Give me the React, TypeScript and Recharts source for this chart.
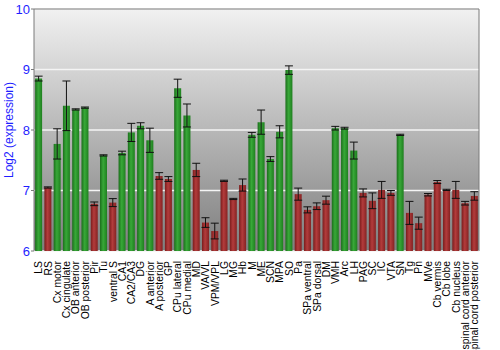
import {
  Bar,
  BarChart,
  CartesianGrid,
  Cell,
  ErrorBar,
  ReferenceLine,
  XAxis,
  YAxis,
} from "recharts";

const regions = [
  "LS", "RS", "Cx motor", "Cx cingulate", "OB anterior", "OB posterior", "Pir", "Tu",
  "ventral S", "CA1", "CA2/CA3", "DG", "A anterior", "A posterior", "GP", "CPu lateral",
  "CPu medial", "MD", "VA/VL", "VPM/VPL", "LG", "MG", "Hb", "M", "ME", "SCN", "MPA", "SO",
  "Pa", "SPa ventral", "SPa dorsal", "DM", "VMH", "Arc", "LH", "PAG", "SC", "IC", "VTA",
  "SN", "Tg", "Pn", "MVe", "Cb vermis", "Cb lobe", "Cb nucleus", "spinal cord anterior",
  "spinal cord posterior",
];

const expression = [
  8.85, 7.05, 7.77, 8.4, 8.34, 8.37, 6.78, 7.58,
  6.8, 7.62, 7.96, 8.07, 7.83, 7.24, 7.19, 8.69,
  8.24, 7.34, 6.47, 6.33, 7.16, 6.86, 7.09, 7.92, 8.13, 7.52, 7.97, 8.99,
  6.94, 6.68, 6.74, 6.84, 8.03, 8.03, 7.66, 6.96, 6.83, 7.01, 6.96,
  7.92, 6.63, 6.46, 6.93, 7.14, 7.01, 7.01, 6.79,
  6.91,
];

const stdErr = [
  0.04, 0.01, 0.25, 0.41, 0.01, 0.01, 0.03, 0.01,
  0.066, 0.03, 0.15, 0.05, 0.2, 0.055, 0.04, 0.15,
  0.19, 0.11, 0.08, 0.13, 0.01, 0.01, 0.1, 0.04, 0.2, 0.04, 0.1, 0.07,
  0.1, 0.05, 0.055, 0.066, 0.03, 0.015, 0.14, 0.066, 0.13, 0.14, 0.04,
  0.01, 0.19, 0.1, 0.02, 0.025, 0.01, 0.14, 0.03,
  0.07,
];

// green = above the expression threshold, red = below
const high = [
  1, 0, 1, 1, 1, 1, 0, 1,
  0, 1, 1, 1, 1, 0, 0, 1,
  1, 0, 0, 0, 0, 0, 0, 1, 1, 1, 1, 1,
  0, 0, 0, 0, 1, 1, 1, 0, 0, 0, 0,
  1, 0, 0, 0, 0, 0, 0, 0,
  0,
];

const yTicks = [6, 7, 8, 9, 10];

const data = regions.map((name, i) => ({
  name,
  value: expression[i],
  err: stdErr[i],
  high: high[i] === 1,
}));

const FONT = "'Liberation Sans', Arial, sans-serif";
const BLUE = "#1f1fff";

function RegionTick(props: any) {
  const { x, y, payload } = props;
  return (
    <g transform={`translate(${x},${y})`}>
      <text
        transform="rotate(-90)"
        x={-2}
        y={0}
        dy="0.36em"
        textAnchor="end"
        fill="#000"
        fontSize={10.4}
        fontFamily={FONT}
      >
        {payload.value}
      </text>
    </g>
  );
}

export default function App() {
  return (
    <div style={{ position: "fixed", left: 0, top: 0, width: 500, height: 350, background: "#fff" }}>
      <BarChart
        width={500}
        height={350}
        data={data}
        margin={{ top: 9, right: 0, left: 0, bottom: 0 }}
        barCategoryGap="12%"
      >
        <defs>
          <linearGradient id="bg-fill" x1="0" y1="0" x2="0" y2="1">
            <stop offset="0%" stopColor="#f1f1f1" />
            <stop offset="100%" stopColor="#7e7e7e" />
          </linearGradient>
          <linearGradient id="green-bar" x1="0" y1="0" x2="1" y2="0">
            <stop offset="0%" stopColor="#1b6e1b" />
            <stop offset="45%" stopColor="#38a838" />
            <stop offset="100%" stopColor="#1f7f1f" />
          </linearGradient>
          <linearGradient id="red-bar" x1="0" y1="0" x2="1" y2="0">
            <stop offset="0%" stopColor="#7a1c1c" />
            <stop offset="45%" stopColor="#b33c3c" />
            <stop offset="100%" stopColor="#852222" />
          </linearGradient>
        </defs>
        <CartesianGrid
          vertical={false}
          stroke="#f4f4f4"
          strokeWidth={1.5}
          fill="url(#bg-fill)"
          fillOpacity={1}
          yAxisId="left"
        />
        <XAxis
          dataKey="name"
          interval={0}
          height={99}
          tick={<RegionTick />}
          tickLine={false}
          axisLine={false}
        />
        <YAxis
          yAxisId="left"
          domain={[6, 10]}
          ticks={yTicks}
          width={34}
          tick={{ fill: BLUE, fontSize: 13, fontFamily: FONT }}
          tickSize={3}
          tickMargin={1}
          stroke="#7a7a7a"
          label={{
            value: "Log2 (expression)",
            angle: -90,
            position: "insideLeft",
            offset: 0,
            dx: 9,
            fill: BLUE,
            fontSize: 12,
            fontFamily: FONT,
            style: { textAnchor: "middle" },
          }}
        />
        <YAxis
          yAxisId="right"
          orientation="right"
          domain={[6, 10]}
          ticks={yTicks}
          width={21}
          tick={{ fill: BLUE, fontSize: 13, fontFamily: FONT }}
          tickSize={3}
          tickMargin={1}
          stroke="#7a7a7a"
        />
        <ReferenceLine yAxisId="left" y={10} stroke="#7a7a7a" strokeWidth={1} />
        <Bar yAxisId="left" dataKey="value" isAnimationActive={false}>
          {data.map((d) => (
            <Cell key={d.name} fill={d.high ? "url(#green-bar)" : "url(#red-bar)"} />
          ))}
          <ErrorBar dataKey="err" width={4} stroke="#111" strokeWidth={1} />
        </Bar>
      </BarChart>
    </div>
  );
}
